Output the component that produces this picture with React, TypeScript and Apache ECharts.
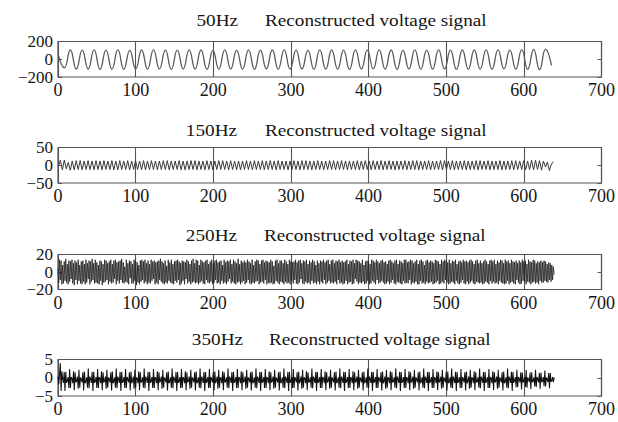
import React, { useEffect, useRef } from "react";
import * as echarts from "echarts";

// ---------- data ----------
const hzLabels = ["50Hz", "150Hz", "250Hz", "350Hz"];
const titleText = "Reconstructed voltage signal";
const yLimits = [200, 50, 20, 5];
const xMin = 0;
const xMax = 700;
const xInterval = 100;

// 50 Hz: successive peaks / troughs (one every 7.65 samples, first at sample 0.6)
const v50Start = 0.6;
const v50Step = 7.65;
const v50 = [
  40, -96, 104, -112, 102, -110, 106, -114, 103, -111,
  105, -113, 101, -110, 104, -112, 106, -109, 103, -113,
  102, -111, 105, -110, 104, -114, 101, -112, 106, -110,
  103, -111, 105, -113, 102, -109, 104, -112, 106, -111,
  103, -110, 101, -113, 105, -112, 104, -110, 102, -114,
  106, -111, 103, -109, 105, -112, 104, -113, 101, -110,
  106, -111, 103, -112, 105, -110, 102, -113, 104, -111,
  104, -111, 105, -112,
  106, -109, 103, -112, 108, -115, 110, -116, 112, -68,
];

// 150 Hz: successive peaks / troughs (one every 2.55 samples, first at sample 0.5)
const v150Start = 0.5;
const v150Step = 2.55;
const v150 = [
  -3, 14, -13, 15, -10, 8, -14, 12, -13, 13,
  -12, 13, -13, 12, -12, 13, -12, 12, -13, 13,
  -12, 12, -13, 13, -12, 12, -12, 13, -13, 12,
  -13, 13, -12, 12, -12, 13, -13, 12, -12, 13,
  -12, 12, -13, 13, -13, 12, -12, 13, -12, 12,
  -13, 12, -12, 13, -12, 13, -13, 12, -12, 12,
  -12, 13, -13, 12, -13, 12, -12, 13, -12, 13,
  -13, 12, -12, 12, -13, 13, -12, 12, -13, 12,
  -12, 13, -12, 13, -12, 12, -13, 13, -12, 12,
  -13, 12, -13, 12, -12, 13, -12, 12, -13, 13,
  -12, 12, -12, 13, -13, 12, -12, 13, -12, 12,
  -13, 13, -12, 12, -12, 12, -13, 12, -12, 13,
  -12, 12, -13, 13, -12, 13, -12, 12, -13, 12,
  -12, 13, -12, 12, -13, 12, -12, 13, -12, 13,
  -13, 12, -12, 13, -12, 12, -13, 12, -12, 12,
  -12, 13, -13, 12, -12, 13, -12, 12, -13, 13,
  -12, 12, -12, 13, -13, 12, -12, 13, -12, 12,
  -13, 12, -12, 12, -12, 13, -13, 12, -12, 13,
  -12, 13, -13, 12, -12, 12, -12, 13, -13, 12,
  -12, 12, -12, 13, -13, 13, -12, 12, -12, 13,
  -13, 12, -12, 12, -12, 13, -13, 12, -12, 12,
  -12, 13, -13, 13, -12, 12, -12, 13, -13, 12,
  -12, 12, -12, 13, -13, 12, -12, 12, -12, 13,
  -13, 13, -12, 12, -12, 13, -13, 12, -12, 14,
  -13, 14, -12, 13, -14, 12, -5, 9, -15, 3,
  10,
];

// 250 Hz: one value per sample
const v250Start = 0;
const v250Step = 1;
const v250 = [
  4, -12, 14, -9, 13, -14, 8, -13, 12, -10, 15, -12, 9, -14, 13, -11,
  12, -8, 14, -13, 10, -15, 13, -9, 11, -14, 14, -10, 8, -13, 12, -14,
  13, -11, 9, -14, 14, -12, 10, -8, 13, -14, 12, -11, 15, -9, 10, -13,
  14, -12, 11, -13, 8, -14, 13, -10, 12, -15, 9, -12, 14, -11, 13, -9,
  10, -14, 12, -11, 14, -13, 9, -12, 13, -8, 14, -14, 11, -10, 12, -13,
  13, -9, 15, -12, 11, -13, 6, -11, 14, -12, 10, -14, 13, -7, 12, -13,
  9, -13, 14, -10, 12, -15, 11, -12, 8, -14, 13, -11, 14, -9, 12, -13,
  14, -11, 10, -14, 13, -12, 9, -13, 14, -10, 12, -8, 13, -14, 11, -12,
  12, -14, 13, -9, 15, -11, 12, -13, 10, -14, 13, -12, 7, -13, 14, -10,
  11, -12, 14, -13, 9, -14, 12, -10, 13, -12, 14, -9, 12, -15, 10, -13,
  13, -10, 12, -14, 11, -8, 14, -13, 12, -11, 9, -14, 13, -12, 15, -11,
  10, -13, 14, -12, 13, -14, 8, -12, 14, -10, 12, -13, 11, -14, 13, -9,
  14, -12, 9, -13, 12, -11, 14, -14, 10, -12, 13, -9, 14, -13, 11, -12,
  12, -14, 13, -10, 8, -13, 14, -12, 11, -14, 13, -11, 12, -8, 14, -13,
  9, -11, 14, -13, 12, -14, 10, -12, 15, -11, 9, -14, 13, -12, 11, -10,
  13, -14, 11, -12, 14, -9, 12, -13, 10, -14, 14, -12, 8, -13, 12, -11,
  14, -10, 13, -14, 9, -12, 13, -11, 14, -13, 11, -9, 13, -14, 12, -12,
  11, -13, 14, -12, 12, -14, 7, -13, 13, -10, 14, -12, 10, -14, 13, -11,
  13, -12, 10, -14, 14, -11, 12, -13, 9, -12, 14, -14, 12, -10, 11, -13,
  12, -9, 14, -13, 11, -14, 13, -12, 14, -8, 10, -13, 13, -14, 12, -11,
  14, -13, 9, -12, 13, -14, 11, -10, 14, -13, 12, -12, 8, -14, 13, -11,
  10, -14, 13, -11, 12, -13, 14, -9, 11, -14, 13, -12, 14, -10, 9, -13,
  13, -12, 14, -13, 10, -11, 13, -14, 12, -9, 14, -13, 11, -12, 13, -14,
  11, -13, 12, -10, 14, -14, 9, -12, 13, -11, 12, -14, 14, -13, 10, -8,
  14, -11, 13, -14, 12, -12, 10, -13, 14, -11, 8, -14, 12, -13, 13, -10,
  12, -14, 9, -13, 14, -10, 13, -12, 11, -14, 14, -9, 12, -13, 10, -12,
  13, -10, 14, -12, 11, -14, 12, -13, 9, -11, 13, -14, 14, -12, 12, -9,
  10, -13, 13, -14, 14, -11, 9, -12, 13, -13, 12, -14, 10, -10, 14, -13,
  14, -12, 11, -13, 12, -9, 14, -14, 13, -12, 10, -13, 12, -11, 14, -14,
  9, -14, 13, -10, 14, -13, 12, -12, 8, -14, 13, -11, 14, -13, 11, -12,
  13, -11, 12, -14, 10, -13, 14, -12, 13, -10, 12, -14, 9, -13, 14, -11,
  12, -13, 14, -9, 13, -12, 11, -14, 14, -13, 10, -11, 13, -12, 12, -14,
  14, -10, 9, -13, 12, -14, 13, -12, 11, -9, 14, -13, 12, -14, 13, -11,
  11, -14, 13, -12, 14, -10, 12, -13, 9, -14, 13, -11, 14, -12, 10, -13,
  13, -12, 10, -14, 12, -13, 14, -11, 12, -12, 9, -14, 13, -10, 14, -13,
  12, -11, 14, -13, 9, -12, 13, -14, 11, -10, 14, -12, 13, -13, 10, -14,
  14, -13, 12, -10, 13, -14, 10, -12, 14, -11, 12, -13, 11, -14, 13, -9,
  10, -12, 13, -14, 11, -13, 14, -10, 12, -12, 13, -14, 9, -11, 14, -12,
  12, -14, 11, -12, 14, -11, 13, -13, 10, -12, 12, -14, 11, -10, 13, -12,
  11, -12, 13, -10, 12, -11, 9, -12, 11, -9, 10, -11, 8, -9, 6, -3,
];

// 350 Hz: one value per sample (beating bursts about every 6 samples)
const v350Start = 0;
const v350Step = 1;
const v350 = [
  0.3, -1.8, 1.2, 4.0, -3.6, 1.8, -0.3, -1.4, 1.6, -3.6, 1.6, -1.4,
  -0.9, 0.2, -2.8, 2.4, -2.8, 0.2, -0.2, -1.5, 1.8, -3.4, 1.5, -1.3,
  -0.8, 0.3, -3.0, 2.2, -2.7, 0.1, -0.4, -1.3, 1.5, -3.5, 1.7, -1.5,
  -1.0, 0.1, -2.7, 2.5, -2.9, 0.3, -0.3, -1.4, 1.6, -3.6, 1.6, -1.4,
  -0.9, 0.2, -2.8, 2.4, -2.8, 0.2, -0.2, -1.5, 1.8, -3.4, 1.5, -1.3,
  -0.8, 0.3, -3.0, 2.2, -2.7, 0.1, -0.4, -1.3, 1.5, -3.5, 1.7, -1.5,
  -1.0, 0.1, -2.7, 2.5, -2.9, 0.3, -0.3, -1.4, 1.6, -3.6, 1.6, -1.4,
  -0.9, 0.2, -2.8, 2.4, -2.8, 0.2, -0.4, -1.3, 1.5, -3.5, 1.7, -1.5,
  -0.8, 0.3, -3.0, 2.2, -2.7, 0.1, -0.2, -1.5, 1.8, -3.4, 1.5, -1.3,
  -1.0, 0.1, -2.7, 2.5, -2.9, 0.3, -0.3, -1.4, 1.6, -3.6, 1.6, -1.4,
  -0.9, 0.2, -2.8, 2.4, -2.8, 0.2, -0.2, -1.5, 1.8, -3.4, 1.5, -1.3,
  -0.8, 0.3, -3.0, 2.2, -2.7, 0.1, -0.4, -1.3, 1.5, -3.5, 1.7, -1.5,
  -1.0, 0.1, -2.7, 2.5, -2.9, 0.3, -0.3, -1.4, 1.6, -3.6, 1.6, -1.4,
  -0.9, 0.2, -2.8, 2.4, -2.8, 0.2, -0.2, -1.5, 1.8, -3.4, 1.5, -1.3,
  -0.8, 0.3, -3.0, 2.2, -2.7, 0.1, -0.4, -1.3, 1.5, -3.5, 1.7, -1.5,
  -1.0, 0.1, -2.7, 2.5, -2.9, 0.3, -0.3, -1.4, 1.6, -3.6, 1.6, -1.4,
  -0.9, 0.2, -2.8, 2.4, -2.8, 0.2, -0.4, -1.3, 1.5, -3.5, 1.7, -1.5,
  -0.8, 0.3, -3.0, 2.2, -2.7, 0.1, -0.2, -1.5, 1.8, -3.4, 1.5, -1.3,
  -1.0, 0.1, -2.7, 2.5, -2.9, 0.3, -0.3, -1.4, 1.6, -3.6, 1.6, -1.4,
  -0.9, 0.2, -2.8, 2.4, -2.8, 0.2, -0.2, -1.5, 1.8, -3.4, 1.5, -1.3,
  -0.8, 0.3, -3.0, 2.2, -2.7, 0.1, -0.4, -1.3, 1.5, -3.5, 1.7, -1.5,
  -1.0, 0.1, -2.7, 2.5, -2.9, 0.3, -0.3, -1.4, 1.6, -3.6, 1.6, -1.4,
  -0.9, 0.2, -2.8, 2.4, -2.8, 0.2, -0.2, -1.5, 1.8, -3.4, 1.5, -1.3,
  -0.8, 0.3, -3.0, 2.2, -2.7, 0.1, -0.4, -1.3, 1.5, -3.5, 1.7, -1.5,
  -1.0, 0.1, -2.7, 2.5, -2.9, 0.3, -0.3, -1.4, 1.6, -3.6, 1.6, -1.4,
  -0.9, 0.2, -2.8, 2.4, -2.8, 0.2, -0.4, -1.3, 1.5, -3.5, 1.7, -1.5,
  -0.8, 0.3, -3.0, 2.2, -2.7, 0.1, -0.2, -1.5, 1.8, -3.4, 1.5, -1.3,
  -1.0, 0.1, -2.7, 2.5, -2.9, 0.3, -0.3, -1.4, 1.6, -3.6, 1.6, -1.4,
  -0.9, 0.2, -2.8, 2.4, -2.8, 0.2, -0.2, -1.5, 1.8, -3.4, 1.5, -1.3,
  -0.8, 0.3, -3.0, 2.2, -2.7, 0.1, -0.4, -1.3, 1.5, -3.5, 1.7, -1.5,
  -1.0, 0.1, -2.7, 2.5, -2.9, 0.3, -0.3, -1.4, 1.6, -3.6, 1.6, -1.4,
  -0.9, 0.2, -2.8, 2.4, -2.8, 0.2, -0.2, -1.5, 1.8, -3.4, 1.5, -1.3,
  -0.8, 0.3, -3.0, 2.2, -2.7, 0.1, -0.4, -1.3, 1.5, -3.5, 1.7, -1.5,
  -1.0, 0.1, -2.7, 2.5, -2.9, 0.3, -0.3, -1.4, 1.6, -3.6, 1.6, -1.4,
  -0.9, 0.2, -2.8, 2.4, -2.8, 0.2, -0.4, -1.3, 1.5, -3.5, 1.7, -1.5,
  -0.8, 0.3, -3.0, 2.2, -2.7, 0.1, -0.2, -1.5, 1.8, -3.4, 1.5, -1.3,
  -1.0, 0.1, -2.7, 2.5, -2.9, 0.3, -0.3, -1.4, 1.6, -3.6, 1.6, -1.4,
  -0.9, 0.2, -2.8, 2.4, -2.8, 0.2, -0.2, -1.5, 1.8, -3.4, 1.5, -1.3,
  -0.8, 0.3, -3.0, 2.2, -2.7, 0.1, -0.4, -1.3, 1.5, -3.5, 1.7, -1.5,
  -1.0, 0.1, -2.7, 2.5, -2.9, 0.3, -0.3, -1.4, 1.6, -3.6, 1.6, -1.4,
  -0.9, 0.2, -2.8, 2.4, -2.8, 0.2, -0.2, -1.5, 1.8, -3.4, 1.5, -1.3,
  -0.8, 0.3, -3.0, 2.2, -2.7, 0.1, -0.4, -1.3, 1.5, -3.5, 1.7, -1.5,
  -1.0, 0.1, -2.7, 2.5, -2.9, 0.3, -0.3, -1.4, 1.6, -3.6, 1.6, -1.4,
  -0.9, 0.2, -2.8, 2.4, -2.8, 0.2, -0.4, -1.3, 1.5, -3.5, 1.7, -1.5,
  -0.8, 0.3, -3.0, 2.2, -2.7, 0.1, -0.2, -1.5, 1.8, -3.4, 1.5, -1.3,
  -1.0, 0.1, -2.7, 2.5, -2.9, 0.3, -0.3, -1.4, 1.6, -3.6, 1.6, -1.4,
  -0.9, 0.2, -2.8, 2.4, -2.8, 0.2, -0.2, -1.5, 1.8, -3.4, 1.5, -1.3,
  -0.8, 0.3, -3.0, 2.2, -2.7, 0.1, -0.4, -1.3, 1.5, -3.5, 1.7, -1.5,
  -1.0, 0.1, -2.7, 2.5, -2.9, 0.3, -0.3, -1.4, 1.6, -3.6, 1.6, -1.4,
  -0.8, 0.2, -2.6, 2.2, -2.6, 0.2, -0.3, -1.3, 1.5, -3.2, 1.4, -1.3,
  -0.8, 0.2, -2.5, 2.1, -2.7, 0.1, -0.4, -1.2, 1.4, -3.1, 1.5, -1.2,
  -0.9, 0.1, -2.4, 2.2, -2.5, 0.2, -0.3, -1.3, 1.3, -3.0, 1.4, -1.2,
  -0.8, 0.2, -2.3, 2.0, -2.4, 0.1, -0.4, -1.2, 1.3, -2.9, 1.3, -1.1,
  -0.8, 0.2, -1.2, 0.1,
];

// ---------- layout / style ----------
const W = 618;
const H = 422;
const FONT = '"Liberation Serif", "Times New Roman", serif';
const gridTops = [41.5, 147.5, 254.5, 359.5];
const gridHeights = [35.5, 35.5, 35, 36.5];
const titleY = [20.5, 130.5, 236, 340];
const hzRight = [238, 237, 237, 243];
const textLeft = [265, 265, 264, 269];
const lineColors = ["#5a5a5a", "#3a3a3a", "#262626", "#111111"];
const lineWidths = [1.3, 1, 0.85, 1.05];

const seriesDefs = [
  { values: v50, start: v50Start, step: v50Step, smooth: 0.5 },
  { values: v150, start: v150Start, step: v150Step, smooth: false },
  { values: v250, start: v250Start, step: v250Step, smooth: false },
  { values: v350, start: v350Start, step: v350Step, smooth: false },
];

const fmtNum = (v: number) => (v < 0 ? "\u2212" + Math.abs(v) : String(v));

export default function App() {
  const ref = useRef<HTMLDivElement>(null);

  useEffect(() => {
    if (!ref.current) return;
    const chart = echarts.init(ref.current, undefined, { renderer: "svg" });

    const grids: any[] = [];
    const xAxes: any[] = [];
    const yAxes: any[] = [];
    const series: any[] = [];
    const graphics: any[] = [];

    const labelStyle = {
      fontFamily: FONT,
      fontSize: 17,
      color: "#151515",
      margin: 5,
      hideOverlap: false,
    };

    for (let p = 0; p < 4; p++) {
      const L = yLimits[p];
      grids.push({
        left: 58,
        right: 15,
        top: gridTops[p],
        height: gridHeights[p],
        show: true,
        borderColor: "#555",
        borderWidth: 1.2,
        backgroundColor: "transparent",
      });
      xAxes.push({
        gridIndex: p,
        type: "value",
        min: xMin,
        max: xMax,
        interval: xInterval,
        axisLine: { show: false },
        axisTick: { show: false },
        axisLabel: {
          fontFamily: FONT,
          fontSize: 18,
          color: "#151515",
          margin: 4,
          showMinLabel: true,
          showMaxLabel: true,
          hideOverlap: false,
        },
        splitLine: { show: true, lineStyle: { color: "#555", width: 1.1 } },
      });
      // left axis: ticks and the two end labels
      yAxes.push({
        gridIndex: p,
        type: "value",
        position: "left",
        min: -L,
        max: L,
        interval: L,
        axisLine: { show: false },
        axisTick: { show: true, inside: true, length: 4, lineStyle: { color: "#555" } },
        axisLabel: {
          ...labelStyle,
          showMinLabel: true,
          showMaxLabel: true,
          formatter: (v: number) => (v === 0 ? "" : fmtNum(v)),
        },
        splitLine: { show: false },
      });
      // left axis: the middle label
      yAxes.push({
        gridIndex: p,
        type: "value",
        position: "left",
        min: -L,
        max: L,
        interval: L,
        axisLine: { show: false },
        axisTick: { show: false },
        axisLabel: {
          ...labelStyle,
          showMinLabel: false,
          showMaxLabel: false,
          formatter: (v: number) => (v === 0 ? fmtNum(v) : ""),
        },
        splitLine: { show: false },
      });
      // right axis: ticks only
      yAxes.push({
        gridIndex: p,
        type: "value",
        position: "right",
        min: -L,
        max: L,
        interval: L,
        axisLine: { show: false },
        axisTick: { show: true, inside: true, length: 4, lineStyle: { color: "#555" } },
        axisLabel: { show: false },
        splitLine: { show: false },
      });
      const def = seriesDefs[p];
      series.push({
        type: "line",
        xAxisIndex: p,
        yAxisIndex: 3 * p,
        data: def.values.map((v, i) => [def.start + i * def.step, v]),
        showSymbol: false,
        symbol: "none",
        smooth: def.smooth,
        silent: true,
        lineStyle: { color: lineColors[p], width: lineWidths[p] },
        emphasis: { disabled: true },
        z: 1,
      });
      graphics.push({
        type: "text",
        x: hzRight[p],
        y: titleY[p],
        scaleX: 1.2,
        style: {
          text: hzLabels[p],
          font: `16px ${FONT}`,
          fill: "#151515",
          align: "right",
          textAlign: "right",
          verticalAlign: "middle",
          textVerticalAlign: "middle",
        },
      });
      graphics.push({
        type: "text",
        x: textLeft[p],
        y: titleY[p],
        scaleX: 1.2,
        style: {
          text: titleText,
          font: `16px ${FONT}`,
          fill: "#151515",
          align: "left",
          textAlign: "left",
          verticalAlign: "middle",
          textVerticalAlign: "middle",
        },
      });
    }

    chart.setOption({
      animation: false,
      backgroundColor: "#fff",
      grid: grids,
      xAxis: xAxes,
      yAxis: yAxes,
      series,
      graphic: graphics,
    });

    return () => chart.dispose();
  }, []);

  return (
    <div
      ref={ref}
      style={{ position: "fixed", left: 0, top: 0, width: W, height: H, background: "#fff" }}
    />
  );
}
